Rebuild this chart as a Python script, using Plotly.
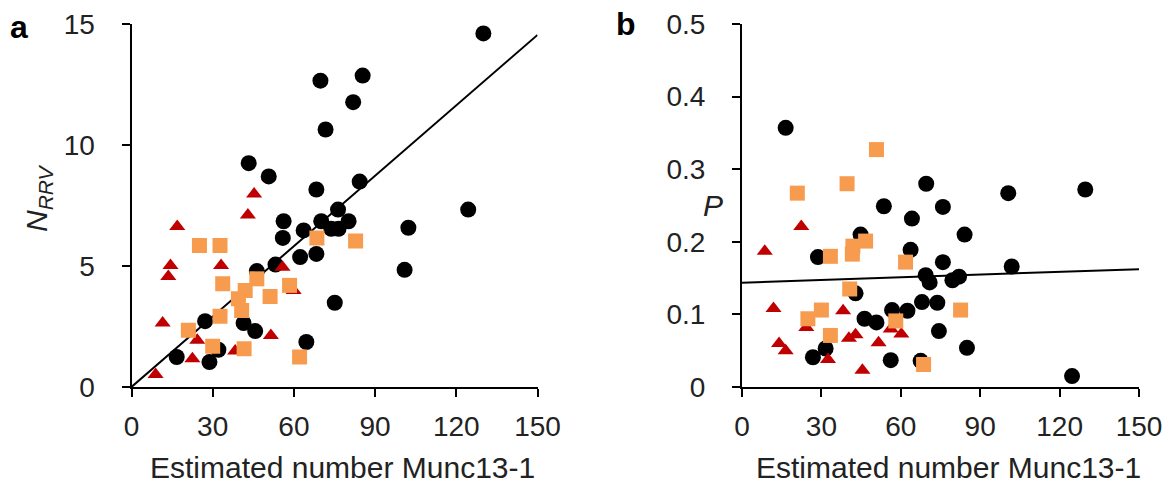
import numpy as np
import plotly.graph_objects as go

# ---------------- data ----------------
# Panel a: N_RRV vs estimated Munc13-1 number
a_circle_x = [130.0, 69.8, 85.4, 81.9, 71.7, 43.3, 50.7, 84.3, 68.3, 124.4, 76.3, 56.2, 70.1, 80.2,
              73.8, 76.5, 63.6, 102.3, 55.9, 62.3, 68.3, 53.2, 46.3, 100.9, 75.1, 27.2, 41.4, 45.7,
              64.6, 32.1, 16.7, 28.8]
a_circle_y = [14.61, 12.66, 12.87, 11.77, 10.64, 9.25, 8.70, 8.49, 8.16, 7.33, 7.33, 6.85, 6.85, 6.85,
              6.54, 6.54, 6.47, 6.58, 6.16, 5.37, 5.50, 5.06, 4.79, 4.84, 3.48, 2.72, 2.64, 2.31,
              1.86, 1.54, 1.24, 1.03]
a_square_x = [25.1, 32.7, 68.5, 82.8, 33.7, 46.3, 42.0, 58.4, 51.2, 39.5, 40.7, 32.7, 21.0, 30.0, 41.6, 62.1]
a_square_y = [5.85, 5.85, 6.16, 6.03, 4.27, 4.47, 3.99, 4.20, 3.74, 3.65, 3.16, 2.92, 2.34, 1.68, 1.58, 1.24]
a_tri_x = [45.3, 43.0, 16.9, 14.4, 13.6, 33.1, 55.8, 59.9, 11.5, 24.3, 51.5, 22.5, 38.3, 8.9]
a_tri_y = [7.98, 7.11, 6.63, 5.02, 4.57, 5.02, 4.95, 3.99, 2.64, 1.93, 2.13, 1.17, 1.49, 0.52]

# Panel b: P vs estimated Munc13-1 number
b_circle_x = [16.5, 69.6, 100.6, 129.7, 53.6, 75.9, 64.2, 84.1, 44.8, 63.7, 28.7, 75.9, 101.9, 69.4,
              70.9, 79.5, 82.0, 42.9, 68.0, 73.8, 56.7, 62.5, 46.3, 50.8, 74.4, 85.0, 31.6, 26.8,
              56.2, 67.5, 124.7]
b_circle_y = [0.357, 0.280, 0.267, 0.272, 0.249, 0.248, 0.232, 0.210, 0.210, 0.189, 0.179, 0.172, 0.166,
              0.154, 0.144, 0.147, 0.152, 0.129, 0.117, 0.116, 0.106, 0.105, 0.094, 0.089, 0.077,
              0.054, 0.053, 0.041, 0.037, 0.036, 0.015]
b_square_x = [50.8, 20.9, 39.7, 46.7, 41.9, 41.7, 33.4, 61.8, 40.7, 82.6, 30.0, 24.9, 58.1, 33.4, 68.6]
b_square_y = [0.327, 0.267, 0.280, 0.201, 0.194, 0.183, 0.180, 0.172, 0.135, 0.106, 0.106, 0.094,
              0.091, 0.071, 0.031]
b_tri_x = [22.4, 8.6, 11.9, 38.2, 24.3, 14.0, 16.5, 32.5, 40.4, 42.9, 51.6, 56.2, 60.2, 45.5]
b_tri_y = [0.221, 0.187, 0.108, 0.105, 0.082, 0.060, 0.050, 0.038, 0.067, 0.072, 0.061, 0.080,
           0.073, 0.023]

# linear fits
fit_a_slope, fit_a_intercept = 0.097, 0.0
fit_b_slope, fit_b_intercept = 0.000124, 0.1437

x_ticks = [0, 30, 60, 90, 120, 150]
a_y_ticks = [0, 5, 10, 15]
b_y_ticks = [0, 0.1, 0.2, 0.3, 0.4, 0.5]
b_y_ticklabels = ["0", "0.1", "0.2", "0.3", "0.4", "0.5"]

# ---------------- figure ----------------
W, H = 1175, 486
BLACK = "#000000"
ORANGE = "#F79B4F"
RED = "#C00000"
FONT = "Arial, Liberation Sans, sans-serif"

fig = go.Figure()

fit_x = np.array([0, 150])
fig.add_trace(go.Scatter(x=fit_x, y=fit_a_slope * fit_x + fit_a_intercept, mode="lines",
                         line=dict(color=BLACK, width=2), xaxis="x", yaxis="y", showlegend=False))
fig.add_trace(go.Scatter(x=fit_x, y=fit_b_slope * fit_x + fit_b_intercept, mode="lines",
                         line=dict(color=BLACK, width=2), xaxis="x2", yaxis="y2", showlegend=False))

def add_markers(x, y, symbol, color, size, xa, ya):
    fig.add_trace(go.Scatter(x=x, y=y, mode="markers", xaxis=xa, yaxis=ya, showlegend=False,
                             marker=dict(symbol=symbol, color=color, size=size, line=dict(width=0))))

add_markers(a_circle_x, a_circle_y, "circle", BLACK, 16, "x", "y")
add_markers(a_tri_x, a_tri_y, "triangle-up", RED, 14, "x", "y")
add_markers(a_square_x, a_square_y, "square", ORANGE, 15, "x", "y")
add_markers(b_circle_x, b_circle_y, "circle", BLACK, 16, "x2", "y2")
add_markers(b_tri_x, b_tri_y, "triangle-up", RED, 14, "x2", "y2")
add_markers(b_square_x, b_square_y, "square", ORANGE, 15, "x2", "y2")

def px_x(p):
    return p / W

def px_y(p):
    return 1 - p / H

axis_common = dict(showline=True, linecolor=BLACK, linewidth=2, ticks="outside", ticklen=8,
                   tickwidth=2, tickcolor=BLACK, showgrid=False, zeroline=False, automargin=False,
                   tickfont=dict(family=FONT, size=28, color="#222222"), fixedrange=True)

fig.update_layout(
    width=W, height=H,
    margin=dict(l=0, r=0, t=0, b=0),
    paper_bgcolor="white", plot_bgcolor="white",
    xaxis=dict(domain=[px_x(131.5), px_x(537.5)], range=[0, 150], tickvals=x_ticks,
               anchor="y", ticklabelstandoff=5, **axis_common),
    yaxis=dict(domain=[px_y(387), px_y(24)], range=[0, 15], tickvals=a_y_ticks,
               anchor="x", ticklabelstandoff=21, **axis_common),
    xaxis2=dict(domain=[px_x(742), px_x(1139)], range=[0, 150], tickvals=x_ticks,
                anchor="y2", ticklabelstandoff=5, **axis_common),
    yaxis2=dict(domain=[px_y(387), px_y(24)], range=[0, 0.5], tickvals=b_y_ticks,
                ticktext=b_y_ticklabels, anchor="x2", ticklabelstandoff=21, **axis_common),
)

ann_font = dict(family=FONT, size=30, color="#222222")
annotations = [
    dict(text="Estimated number Munc13-1", x=px_x(342), y=px_y(467)),
    dict(text="Estimated number Munc13-1", x=px_x(948), y=px_y(467)),
    dict(text="<i>N</i><sub><i>RRV</i></sub>", x=px_x(38), y=px_y(198), textangle=-90),
    dict(text="<i>P</i>", x=px_x(713), y=px_y(205)),
    dict(text="<b>a</b>", x=px_x(19), y=px_y(27), font=dict(family=FONT, size=32, color=BLACK)),
    dict(text="<b>b</b>", x=px_x(626), y=px_y(24), font=dict(family=FONT, size=32, color=BLACK)),
]
for a in annotations:
    a.setdefault("font", ann_font)
    fig.add_annotation(xref="paper", yref="paper", showarrow=False,
                       xanchor="center", yanchor="middle", **a)

fig.write_html("out.html")
